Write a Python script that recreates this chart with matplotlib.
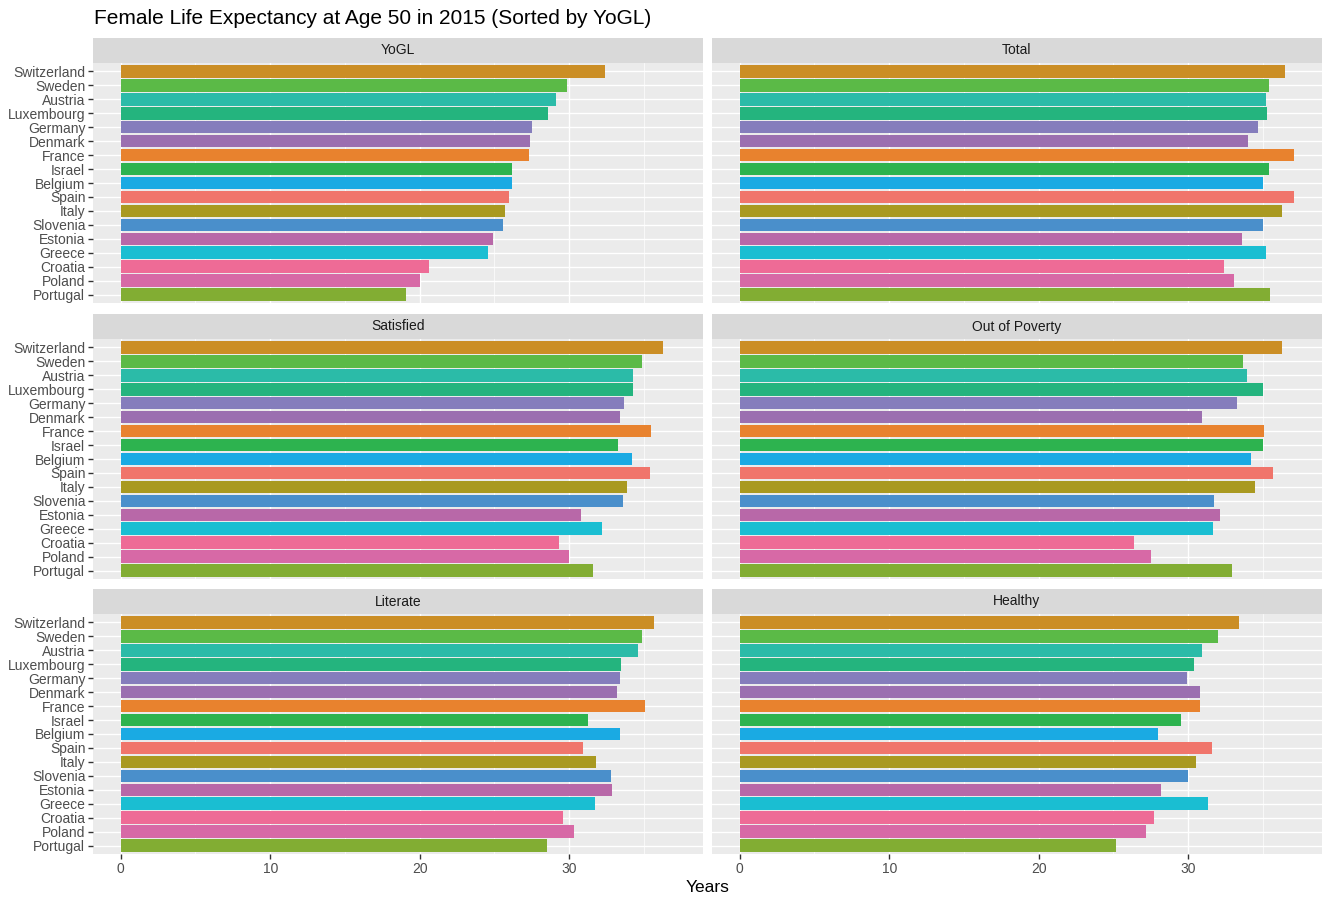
import matplotlib
matplotlib.use("Agg")
import matplotlib.pyplot as plt

plt.rcParams['font.family'] = ['Liberation Sans', 'DejaVu Sans']

# countries, top to bottom (sorted by YoGL)
countries = ["Switzerland", "Sweden", "Austria", "Luxembourg", "Germany", "Denmark",
             "France", "Israel", "Belgium", "Spain", "Italy", "Slovenia", "Estonia",
             "Greece", "Croatia", "Poland", "Portugal"]

country_colors = ["#CB8E25", "#5BBA47", "#2BBBA8", "#24B47E", "#857DBC", "#9B6FB0",
                  "#E8822E", "#2DB34F", "#1AAAE3", "#F0756B", "#A99920", "#4A8FCB",
                  "#B868A8", "#1ABED2", "#EE6B96", "#D769A6", "#82AD33"]

yogl = [32.4, 29.85, 29.1, 28.6, 27.5, 27.35, 27.3, 26.2, 26.2, 26.0, 25.7, 25.6,
        24.9, 24.55, 20.65, 20.0, 19.1]
total = [36.5, 35.4, 35.2, 35.3, 34.7, 34.0, 37.05, 35.4, 35.0, 37.1, 36.3, 35.0,
         33.6, 35.2, 32.4, 33.1, 35.45]
satisfied = [36.25, 34.85, 34.3, 34.25, 33.65, 33.4, 35.5, 33.3, 34.2, 35.4, 33.9, 33.6,
             30.8, 32.2, 29.35, 30.0, 31.6]
out_of_poverty = [36.3, 33.7, 33.95, 35.0, 33.3, 30.9, 35.1, 35.0, 34.2, 35.7, 34.5, 31.7,
                  32.1, 31.65, 26.4, 27.5, 32.95]
literate = [35.65, 34.9, 34.6, 33.5, 33.4, 33.2, 35.1, 31.25, 33.4, 30.9, 31.8, 32.8,
            32.9, 31.7, 29.6, 30.3, 28.5]
healthy = [33.4, 32.0, 30.9, 30.4, 29.9, 30.8, 30.8, 29.5, 28.0, 31.6, 30.5, 30.0,
           28.2, 31.3, 27.7, 27.2, 25.2]

panel_titles = ["YoGL", "Total", "Satisfied", "Out of Poverty", "Literate", "Healthy"]
panel_values = [yogl, total, satisfied, out_of_poverty, literate, healthy]

x_ticks = [0, 10, 20, 30]

W, H = 1324, 899
fig = plt.figure(figsize=(W / 100, H / 100), dpi=100)
fig.patch.set_facecolor("white")

col_x = [(93, 703), (712, 1322)]
row_top = [63, 339, 614]
panel_h = 240
strip_h = 25

xmax = max(max(v) for v in panel_values)
xlim = (-0.05 * xmax, xmax * 1.05)
n = len(countries)

for k, (title, vals) in enumerate(zip(panel_titles, panel_values)):
    r, c = divmod(k, 2)
    x0, x1 = col_x[c]
    top = row_top[r]
    ax = fig.add_axes([x0 / W, 1 - (top + panel_h) / H, (x1 - x0) / W, panel_h / H])
    ax.set_facecolor("#EBEBEB")
    ax.set_xlim(*xlim)
    ax.set_ylim(n - 0.4, -0.6)

    # grid like ggplot
    for xm in [5, 15, 25, 35]:
        ax.axvline(xm, color="white", lw=0.5, zorder=0)
    for xm in x_ticks:
        ax.axvline(xm, color="white", lw=1.0, zorder=0)
    for i in range(n):
        ax.axhline(i, color="white", lw=1.0, zorder=0)

    ax.barh(range(n), vals, height=0.9, color=country_colors, zorder=2)

    for s in ax.spines.values():
        s.set_visible(False)

    ax.set_xticks(x_ticks)
    ax.set_yticks(range(n))
    ax.tick_params(axis="both", length=3.5, width=1, color="#333333",
                   labelsize=10, labelcolor="#4D4D4D", pad=2)
    if c == 0:
        ax.set_yticklabels(countries)
    else:
        ax.tick_params(axis="y", length=0, labelleft=False)
    if r == 2:
        ax.set_xticklabels([str(t) for t in x_ticks])
    else:
        ax.tick_params(axis="x", length=0, labelbottom=False)

    # facet strip
    sax = fig.add_axes([x0 / W, 1 - top / H, (x1 - x0) / W, strip_h / H])
    sax.set_facecolor("#D9D9D9")
    sax.set_xticks([])
    sax.set_yticks([])
    for s in sax.spines.values():
        s.set_visible(False)
    sax.text(0.5, 0.5, title, ha="center", va="center", fontsize=10,
             color="#1A1A1A", transform=sax.transAxes)

fig.text(94 / W, 1 - 18 / H, "Female Life Expectancy at Age 50 in 2015 (Sorted by YoGL)",
         ha="left", va="center", fontsize=15, color="black")
fig.text((93 + 1322) / 2 / W, 1 - 887 / H, "Years", ha="center", va="center",
         fontsize=12.5, color="black")

fig.savefig("out.png", dpi=100)
